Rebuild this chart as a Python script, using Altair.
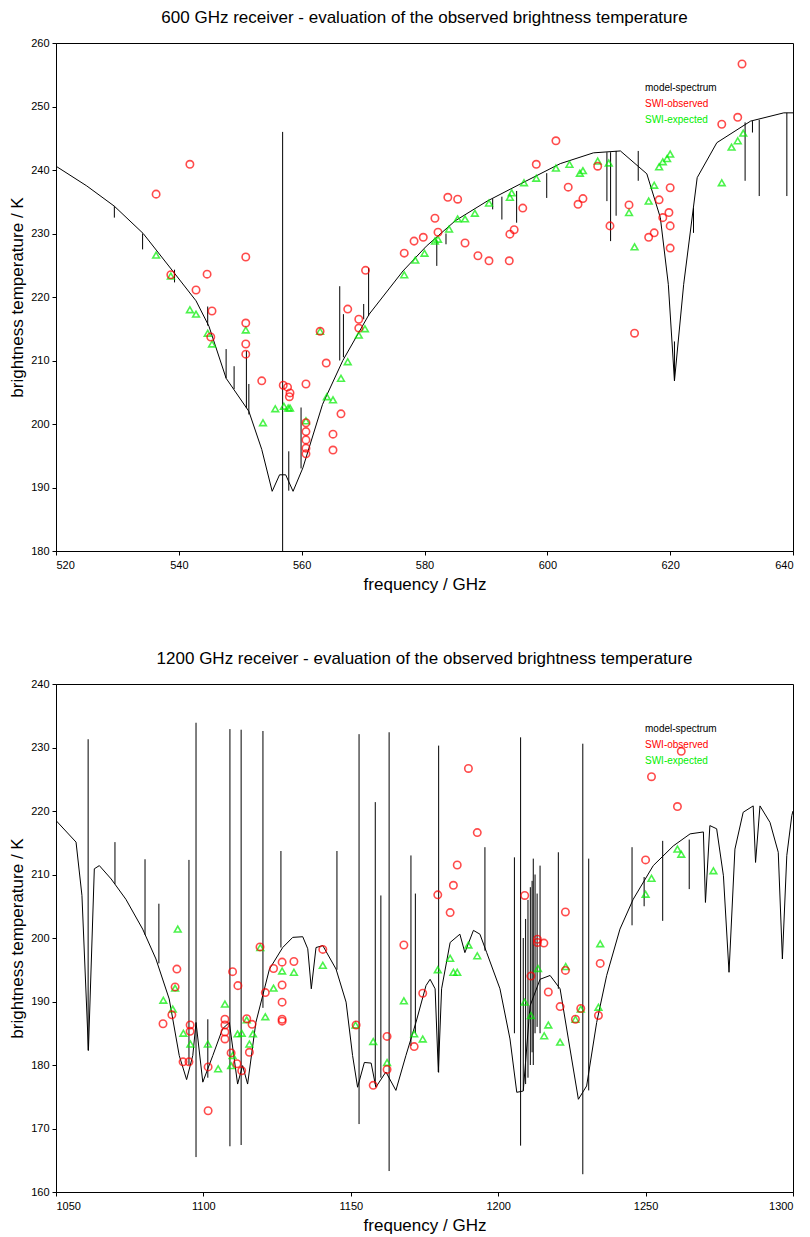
import altair as alt
import pandas as pd

FONT = "Liberation Sans"

# ---------------- 600 GHz panel ----------------
top_spec_f = [520, 525, 529.5, 534.2, 539, 542.8, 544.9, 547.7, 551.4, 553.5, 555.2, 556.4,
              557.4, 558.6, 560.2, 563.4, 566.7, 571, 576.5, 580.3, 585, 590.2, 595.6, 602.1,
              607.5, 611.9, 616.2, 618.4, 619.7, 620.7, 622.2, 624.4, 627.6, 633.1, 638.5, 640]
top_spec_t = [240.6, 237.5, 234.3, 230, 224.1, 219.4, 215.4, 207.2, 202, 196, 189.4, 192,
              192, 189.4, 193.1, 203.1, 210, 217.3, 224.1, 228, 232, 235.1, 237.8, 241,
              242.7, 243, 239.4, 232.5, 222, 206.8, 222, 238.8, 244.3, 247.7, 249, 249]
# spikes: frequency, low end, high end
top_spike_f = [529.5, 534.1, 539.3, 544.7, 547.7, 549.0, 551.0, 551.4, 556.9, 557.9, 559.9,
               566.2, 566.8, 570.1, 570.9, 582.0, 583.5, 591.1, 592.6, 595.0, 599.9, 609.7,
               610.3, 611.2, 614.8, 620.7, 623.8, 632.2, 633.4, 634.5, 639.0]
top_spike_lo = [232.5, 227.5, 222.3, 215.5, 207.2, 205.5, 202.5, 201.5, 180, 189.5, 193,
                210, 210.5, 216.5, 217, 224.9, 228.3, 233.8, 232.2, 231.7, 235.6, 235.1,
                228.8, 232.8, 238.3, 206.8, 230.1, 238.3, 245.9, 235.9, 235.9]
top_spike_hi = [234.3, 230, 224.3, 218.5, 211.8, 209.1, 211.5, 206.3, 246, 195.7, 202.6,
                221.7, 217.3, 218.9, 224.6, 229, 230, 235.5, 235.8, 236.7, 239.5, 242.8,
                242.8, 243, 243, 213, 234, 247.5, 247.7, 247.9, 249]

top_obs_f = [536.3, 541.8, 538.7, 542.8, 544.6, 545.4, 545.2, 550.9, 550.9, 550.9, 550.9, 553.5,
             557.0, 557.7, 558.1, 558.0, 560.7, 560.7, 560.7, 560.7, 560.7, 560.7, 563.0, 564.0,
             565.1, 565.1, 566.4, 567.5, 570.4, 569.3, 569.3, 576.7, 578.3, 579.8, 581.7, 582.2,
             583.8, 585.4, 586.6, 588.7, 590.5, 593.8, 593.9, 594.6, 596.0, 598.2, 601.4, 603.4,
             605.0, 605.8, 608.2, 610.2, 613.3, 614.2, 616.5, 617.4, 618.2, 618.8, 620.0, 619.8,
             620.0, 620.0, 628.4, 631.0, 631.7]
top_obs_t = [236.2, 240.9, 223.5, 221.1, 223.6, 217.8, 213.7, 226.3, 215.9, 212.6, 211.0, 206.8,
             206.1, 205.8, 204.9, 204.3, 206.3, 200.2, 198.8, 197.5, 196.2, 195.3, 214.6, 209.6,
             198.4, 195.9, 201.6, 218.1, 224.2, 216.5, 215.1, 226.9, 228.8, 229.4, 232.4, 230.2,
             235.7, 235.4, 228.5, 226.5, 225.7, 225.7, 229.9, 230.6, 234.0, 240.9, 244.6, 237.3,
             234.6, 235.5, 240.6, 231.2, 234.5, 214.3, 229.4, 230.1, 235.3, 232.5, 237.2, 233.3,
             231.2, 227.7, 247.2, 248.3, 256.7]

top_exp_f = [536.3, 538.7, 541.8, 542.8, 544.7, 545.4, 550.9, 553.7, 555.7, 557.1, 557.8, 558.1,
             560.7, 563.0, 564.1, 565.1, 566.4, 567.5, 569.3, 570.3, 576.7, 578.5, 580.0, 581.7,
             582.2, 584.0, 585.4, 586.6, 588.2, 590.5, 593.9, 594.2, 596.2, 598.2, 601.4, 603.6,
             605.3, 605.8, 608.2, 610.0, 613.3, 614.2, 616.5, 617.4, 618.2, 618.8, 619.5, 620.0,
             628.4, 630.0, 631.0, 631.9]
top_exp_t = [226.6, 223.3, 218.0, 217.3, 214.3, 212.6, 214.8, 200.2, 202.4, 202.8, 202.5, 202.5,
             200.5, 214.6, 204.3, 203.8, 207.2, 209.8, 214.0, 215.0, 223.5, 225.8, 226.9, 228.8,
             229.1, 230.7, 232.3, 232.3, 233.2, 234.8, 235.7, 236.4, 238.0, 238.7, 240.3, 240.9,
             239.5, 239.9, 241.4, 241.1, 233.3, 227.9, 235.1, 237.6, 240.5, 241.3, 241.8, 242.5,
             238.0, 243.6, 244.6, 245.8]

# ---------------- 1200 GHz panel ----------------
bot_spec_f = [1050, 1056.8, 1058.8, 1061, 1063, 1064.7, 1068.7, 1073.7, 1079.4, 1083.9, 1088.4,
              1091.8, 1094.3, 1096.4, 1097.5, 1099.8, 1103.2, 1106.5, 1108.8, 1111.6, 1113.3,
              1115, 1117.8, 1122.4, 1126.9, 1130.3, 1133.7, 1135.4, 1136.6, 1138.2, 1140.5,
              1145, 1148.4, 1150.6, 1152.3, 1154.6, 1156.9, 1158.5, 1161.9, 1165.3, 1168.7,
              1172.1, 1175.5, 1176.9, 1178.6, 1179.7, 1180.8, 1183.7, 1187, 1188.7, 1191.6,
              1193.8, 1196.1, 1200.6, 1204, 1206.3, 1208.5, 1210.8, 1214.2, 1217.6, 1221,
              1223.8, 1227.2, 1230, 1233.4, 1236.8, 1241.3, 1245.8, 1252.6, 1259.4, 1265.1,
              1269.6, 1270.3, 1271.8, 1274.1, 1276.4, 1278.3, 1280.3, 1283.1, 1286.5, 1287.3,
              1288.8, 1292.2, 1295, 1296.4, 1297.9, 1299.6, 1300]
bot_spec_t = [218.5, 215.1, 206.7, 182.3, 210.9, 211.4, 209.3, 206.1, 201.4, 196.7, 190.4,
              181.5, 177.7, 181.5, 186.7, 177.3, 181.5, 185.7, 186.7, 177.0, 179.9,
              177.0, 186.7, 195.1, 198.5, 200.1, 200.2, 198.3, 192.0, 198.5, 198.8,
              195.1, 189.9, 181.5, 176.5, 180.4, 180.3, 176.5, 178.9, 176.0, 181.5,
              186.7, 192.5, 193.5, 192.0, 178.9, 192.0, 199.3, 200.6, 197.7, 201.2,
              200.6, 197.7, 192.0, 184.1, 175.7, 175.9, 189.3, 193.5, 194.1, 192.0,
              184.1, 174.6, 176.7, 186.7, 194.1, 201.4, 206.1, 211.4, 214.5, 216.4,
              216.7, 205.6, 217.7, 217.2, 209.8, 194.6, 214.0, 219.8, 220.8, 211.9,
              220.8, 218.2, 213.5, 196.7, 213.0, 219.3, 220.0]
bot_spike_f = [1060.9, 1070.0, 1080.2, 1084.9, 1095.1, 1097.5, 1101.5, 1109.0, 1112.8, 1120.2,
               1126.3, 1145.3, 1152.8, 1158.3, 1160.2, 1163.0, 1170.4, 1171.9, 1179.8, 1195.5,
               1205.5, 1207.6, 1208.5, 1209.3, 1210.1, 1210.9, 1211.5, 1211.9, 1212.5, 1213.2,
               1214.2, 1220.4, 1228.7, 1230.7, 1245.4, 1249.5, 1255.8, 1264.8]
bot_spike_lo = [182.3, 208.5, 200.5, 196.0, 180.0, 165.5, 178.0, 167.2, 167.4, 189.0,
                198.5, 195.0, 170.7, 177.0, 178.0, 163.3, 183.0, 185.0, 178.8, 198.0,
                185.0, 167.3, 176.0, 177.0, 178.0, 180.0, 182.0, 180.0, 185.0, 186.0,
                185.0, 192.0, 162.8, 176.0, 202.0, 205.0, 202.7, 207.7]
bot_spike_hi = [231.3, 215.1, 212.4, 205.4, 212.3, 233.9, 187.2, 232.9, 232.8, 232.6,
                213.7, 213.7, 232.1, 221.4, 206.7, 232.4, 213.0, 207.0, 230.3, 214.3,
                212.7, 231.6, 200.0, 203.0, 206.0, 208.0, 209.0, 212.5, 210.0, 207.0,
                211.4, 213.5, 230.6, 212.5, 214.3, 209.6, 215.3, 215.5]

bot_obs_f = [1086.3, 1089.3, 1090.4, 1091.0, 1093.1, 1095.1, 1095.5, 1095.5, 1101.6, 1101.6,
             1107.3, 1107.3, 1107.3, 1107.3, 1109.4, 1109.9, 1111.7, 1111.4, 1113.0, 1114.7,
             1116.5, 1115.6, 1119.2, 1121.0, 1123.8, 1126.7, 1126.7, 1126.7, 1126.7, 1126.7,
             1130.7, 1140.5, 1151.8, 1157.6, 1162.3, 1162.3, 1168.0, 1171.5, 1174.4, 1179.5,
             1183.7, 1184.8, 1186.1, 1189.9, 1192.9, 1209.0, 1211.1, 1213.3, 1213.3, 1215.5,
             1217.0, 1221.0, 1222.8, 1222.8, 1226.2, 1228.0, 1234.0, 1234.6, 1250.0, 1252.0,
             1260.8, 1262.1]
bot_obs_t = [186.5, 187.9, 192.3, 195.1, 180.5, 180.5, 186.3, 185.3, 179.7, 172.8,
             187.2, 186.3, 185.2, 184.1, 181.9, 194.7, 192.5, 180.2, 179.1, 187.3,
             186.4, 182.0, 198.6, 191.4, 195.2, 196.2, 192.6, 189.9, 187.2, 186.9,
             196.3, 198.2, 186.3, 176.8, 184.5, 179.3, 198.9, 182.9, 191.3, 206.8,
             204.0, 208.3, 211.5, 226.7, 216.6, 206.7, 194.0, 199.8, 199.3, 199.2,
             191.5, 189.2, 204.1, 194.9, 187.2, 188.9, 187.8, 196.0, 212.3, 225.4,
             220.7, 229.4]

bot_exp_f = [1091.3, 1090.4, 1086.4, 1089.6, 1093.2, 1095.6, 1101.5, 1105.0, 1107.3, 1109.4,
             1109.9, 1111.6, 1113.0, 1114.7, 1115.6, 1116.8, 1119.3, 1121.0, 1123.8, 1126.7,
             1130.7, 1140.5, 1151.6, 1157.6, 1162.3, 1168.0, 1171.5, 1174.4, 1179.5, 1183.7,
             1184.8, 1186.1, 1189.9, 1192.9, 1209.0, 1211.1, 1213.5, 1217.0, 1215.6, 1221.0,
             1222.9, 1226.2, 1228.0, 1234.0, 1234.6, 1250.0, 1252.0, 1260.8, 1262.1, 1273.0]
bot_exp_t = [201.4, 192.1, 190.2, 188.8, 185.0, 183.3, 183.3, 179.4, 189.6, 179.9,
             181.5, 184.9, 185.0, 187.1, 183.3, 184.9, 198.5, 187.6, 192.1, 194.8,
             194.6, 195.7, 186.3, 183.7, 180.4, 190.1, 184.9, 184.1, 195.0, 196.8,
             194.6, 194.6, 198.9, 197.2, 189.9, 187.8, 195.2, 186.3, 184.6, 183.6,
             195.5, 187.2, 188.8, 189.1, 199.1, 206.9, 209.4, 214.0, 213.2, 210.6]

legend_labels = ["model-spectrum", "SWI-observed", "SWI-expected"]
legend_colors = ["#000000", "#ff0000", "#00ee00"]

W, H = 737, 508


def panel(title, sf, st, kf, klo, khi, of, ot, ef, et, xdom, ydom, xstep, ystep):
    xs = alt.Scale(domain=xdom, nice=False, zero=False)
    ys = alt.Scale(domain=ydom, nice=False, zero=False)
    xax = alt.Axis(values=list(range(xdom[0], xdom[1] + 1, xstep)), grid=False, tickSize=4,
                   format="d", labelFontSize=11, titleFontSize=17, titleFontWeight="normal",
                   titlePadding=6, labelPadding=4)
    yax = alt.Axis(values=list(range(ydom[0], ydom[1] + 1, ystep)), grid=False, tickSize=4,
                   labelFontSize=11, titleFontSize=17, titleFontWeight="normal",
                   titlePadding=4, labelPadding=3)
    x = alt.X("f:Q", scale=xs, axis=xax, title="frequency / GHz")
    y = alt.Y("t:Q", scale=ys, axis=yax, title="brightness temperature / K")

    spec = pd.DataFrame({"f": sf, "t": st})
    line = alt.Chart(spec).mark_line(color="black", strokeWidth=1, clip=True).encode(
        x=x, y=y, order="f:Q")

    spikes = pd.DataFrame({"f": kf, "t": klo, "t2": khi})
    rules = alt.Chart(spikes).mark_rule(color="black", strokeWidth=1, clip=True).encode(
        x=x, y=y, y2="t2:Q")

    obs = pd.DataFrame({"f": of, "t": ot})
    circles = alt.Chart(obs).mark_point(shape="circle", size=55, color="#ff0000",
                                        strokeWidth=1.6, filled=False, clip=True).encode(x=x, y=y)

    exp = pd.DataFrame({"f": ef, "t": et})
    tris = alt.Chart(exp).mark_point(shape="triangle-up", size=45, color="#00ee00",
                                     strokeWidth=1.6, filled=False, clip=True).encode(x=x, y=y)

    texts = []
    for i, (lab, col) in enumerate(zip(legend_labels, legend_colors)):
        texts.append(
            alt.Chart(pd.DataFrame({"label": [lab]})).mark_text(
                align="left", baseline="middle", fontSize=10, font=FONT, color=col
            ).encode(x=alt.value(589), y=alt.value(45 + 16 * i), text="label:N")
        )

    return alt.layer(line, rules, tris, circles, *texts).properties(
        width=W, height=H,
        title=alt.TitleParams(title, fontSize=17, fontWeight="normal", font=FONT, offset=10),
    )


top = panel("600 GHz receiver - evaluation of the observed brightness temperature",
            top_spec_f, top_spec_t, top_spike_f, top_spike_lo, top_spike_hi,
            top_obs_f, top_obs_t, top_exp_f, top_exp_t, [520, 640], [180, 260], 20, 10)
bottom = panel("1200 GHz receiver - evaluation of the observed brightness temperature",
               bot_spec_f, bot_spec_t, bot_spike_f, bot_spike_lo, bot_spike_hi,
               bot_obs_f, bot_obs_t, bot_exp_f, bot_exp_t, [1050, 1300], [160, 240], 50, 10)

chart = alt.vconcat(top, bottom, spacing=56).properties(padding=0).configure_view(
    stroke="black", strokeWidth=1
).configure_axis(
    domainColor="black", tickColor="black", labelColor="black", titleColor="black",
    labelFont=FONT, titleFont=FONT
)

chart.save("out.html", embed_options={"renderer": "svg", "actions": False})
